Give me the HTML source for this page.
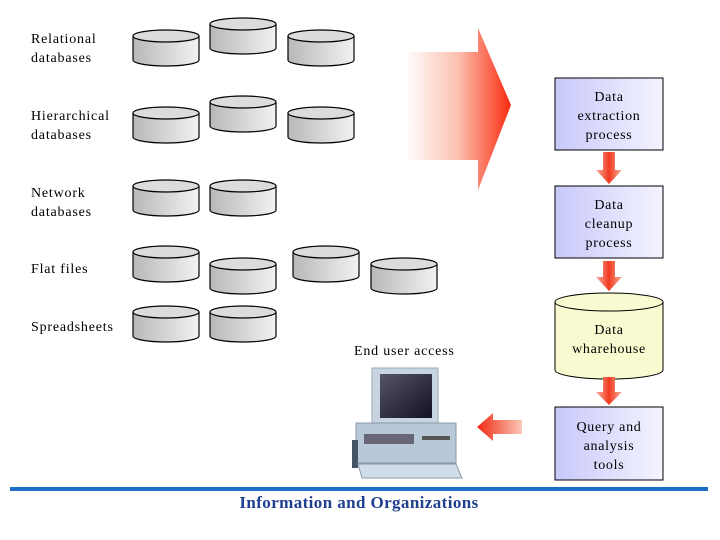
<!DOCTYPE html>
<html><head><style>
body{margin:0;background:#fff;}
svg{display:block;font-family:"Liberation Serif",serif;}
</style></head><body>
<svg width="720" height="540" viewBox="0 0 720 540" xmlns="http://www.w3.org/2000/svg">
<defs>
<linearGradient id="cyl" x1="0" x2="1"><stop offset="0" stop-color="#b8b8b8"/><stop offset="1" stop-color="#f2f2f2"/></linearGradient>
<linearGradient id="big" x1="0" x2="1"><stop offset="0" stop-color="#fff"/><stop offset="0.5" stop-color="#fcc0b0"/><stop offset="1" stop-color="#fa2a10"/></linearGradient>
<linearGradient id="box" x1="0" x2="1"><stop offset="0" stop-color="#c8c8fa"/><stop offset="1" stop-color="#f4f4ff"/></linearGradient>
<linearGradient id="dn" x1="0" x2="1"><stop offset="0" stop-color="#f8b0a0"/><stop offset="0.5" stop-color="#f03a20"/><stop offset="1" stop-color="#f8b0a0"/></linearGradient>
<linearGradient id="lf" x1="0" x2="1"><stop offset="0" stop-color="#f02810"/><stop offset="1" stop-color="#fcc8b8"/></linearGradient>
<linearGradient id="scr" x1="0" x2="1" y1="0" y2="1"><stop offset="0" stop-color="#556"/><stop offset="1" stop-color="#112"/></linearGradient>
<g id="c">
<path d="M0,6 V30 A33,6 0 0 0 66,30 V6" fill="url(#cyl)" stroke="#000" stroke-width="1.2"/>
<ellipse cx="33" cy="6" rx="33" ry="6" fill="#dcdcdc" stroke="#000" stroke-width="1.2"/>
</g>
</defs>
<g font-size="14" fill="#000" letter-spacing="0.8">
<text x="31" y="43">Relational</text><text x="31" y="62">databases</text>
<text x="31" y="120">Hierarchical</text><text x="31" y="139">databases</text>
<text x="31" y="197">Network</text><text x="31" y="216">databases</text>
<text x="31" y="273">Flat files</text>
<text x="31" y="331">Spreadsheets</text>
<text x="354" y="355">End user access</text>
</g>
<use href="#c" x="133" y="30"/><use href="#c" x="210" y="18"/><use href="#c" x="288" y="30"/>
<use href="#c" x="133" y="107"/><use href="#c" x="210" y="96"/><use href="#c" x="288" y="107"/>
<use href="#c" x="133" y="180"/><use href="#c" x="210" y="180"/>
<use href="#c" x="133" y="246"/><use href="#c" x="210" y="258"/><use href="#c" x="293" y="246"/><use href="#c" x="371" y="258"/>
<use href="#c" x="133" y="306"/><use href="#c" x="210" y="306"/>
<polygon points="405,52 478,52 478,28 511,105 478,190 478,160 405,160" fill="url(#big)"/>
<rect x="555" y="78" width="108" height="72" fill="url(#box)" stroke="#000"/>
<rect x="555" y="186" width="108" height="72" fill="url(#box)" stroke="#000"/>
<rect x="555" y="407" width="108" height="73" fill="url(#box)" stroke="#000"/>
<path d="M555,302 V370 A54,9 0 0 0 663,370 V302" fill="#fafad0" stroke="#000"/>
<ellipse cx="609" cy="302" rx="54" ry="9" fill="#fafad0" stroke="#000"/>
<g font-size="14" text-anchor="middle" letter-spacing="0.7">
<text x="609" y="101">Data</text><text x="609" y="120">extraction</text><text x="609" y="139">process</text>
<text x="609" y="209">Data</text><text x="609" y="228">cleanup</text><text x="609" y="247">process</text>
<text x="609" y="334">Data</text><text x="609" y="353">wharehouse</text>
<text x="609" y="431">Query and</text><text x="609" y="450">analysis</text><text x="609" y="469">tools</text>
</g>
<polygon points="603,152 615,152 615,170 622,170 609,184 596,170 603,170" fill="url(#dn)"/>
<polygon points="603,261 615,261 615,277 622,277 609,291 596,277 603,277" fill="url(#dn)"/>
<polygon points="603,377 615,377 615,392 622,392 609,405 596,392 603,392" fill="url(#dn)"/>
<polygon points="477,427 493,413 493,420 522,420 522,434 493,434 493,441" fill="url(#lf)"/>
<rect x="372" y="368" width="66" height="58" fill="#c8d4e0" stroke="#9ab"/>
<rect x="380" y="374" width="52" height="44" fill="url(#scr)"/>
<rect x="390" y="426" width="34" height="6" fill="#aab8c8"/>
<rect x="356" y="423" width="100" height="40" fill="#b8c8d8" stroke="#8a9aaa"/>
<rect x="364" y="434" width="50" height="10" fill="#667"/>
<rect x="422" y="436" width="28" height="4" fill="#555"/>
<rect x="352" y="440" width="6" height="28" fill="#456"/>
<polygon points="358,464 456,464 462,478 362,478" fill="#d0dce8" stroke="#8a9aaa"/>
<rect x="10" y="487" width="698" height="4" fill="#1a6ec8"/>
<text x="359" y="508" font-size="17" font-weight="bold" fill="#1f3f8f" text-anchor="middle" letter-spacing="0.4">Information and Organizations</text>
</svg>
</body></html>
